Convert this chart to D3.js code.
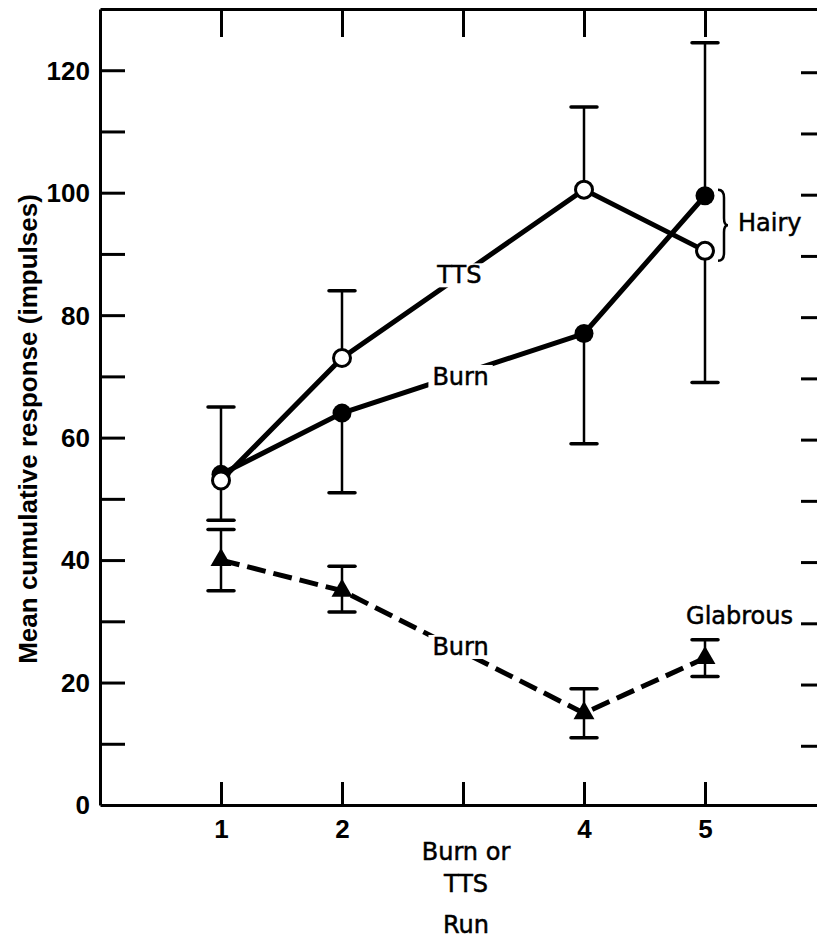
<!DOCTYPE html>
<html>
<head>
<meta charset="utf-8">
<script src="https://cdn.jsdelivr.net/npm/d3@7"></script>
<style>
  html, body { margin: 0; padding: 0; background: #fff; }
  svg { display: block; }
</style>
</head>
<body>
<svg id="chart" width="817" height="940"></svg>
<script>
// Runs at which responses were recorded
const runs = [1, 2, 4, 5];

// Hairy skin, TTS condition (open circles)
const hairyTTS = [53, 73, 100.5, 90.5];
const hairyTTSHigh = [65, 84, 114, null];
const hairyTTSLow = [null, null, null, 69];

// Hairy skin, burn condition (filled circles)
const hairyBurn = [54, 64, 77, 99.5];
const hairyBurnHigh = [null, null, null, 124.5];
const hairyBurnLow = [46.5, 51, 59, null];

// Glabrous skin, burn condition (filled triangles, dashed)
const glabrousBurn = [40, 35, 15, 24];
const glabrousBurnHigh = [45, 39, 19, 27];
const glabrousBurnLow = [35, 31.5, 11, 21];

// Axis ticks and labels
const xTicks = [1, 2, 3, 4, 5];
const xTickLabels = ["1", "2", "", "4", "5"];
const yMinorTicks = d3.range(10, 130, 10);
const yTickLabels = [0, 20, 40, 60, 80, 100, 120];

const svg = d3.select("#chart");
const x = d3.scaleLinear().domain([0, 6]).range([100, 826]);
const y = d3.scaleLinear().domain([0, 130]).range([805, 9]);

const SANS = "'Liberation Sans', Arial, Helvetica, sans-serif";
const LABEL = "'DejaVu Sans', Verdana, sans-serif";

// ---- frame and ticks ----
function styleAxis(g) {
  g.select(".domain").attr("stroke", "#000").attr("stroke-width", 3);
  g.selectAll(".tick line").attr("stroke", "#000").attr("stroke-width", 3);
}

svg.append("g")
  .attr("transform", `translate(${x(0)},0)`)
  .call(d3.axisLeft(y).tickValues(yMinorTicks).tickSize(-25).tickSizeOuter(0).tickFormat(""))
  .call(styleAxis);

svg.append("g")
  .attr("transform", `translate(${x(6)},2)`)
  .call(d3.axisRight(y).tickValues(yMinorTicks).tickSize(-25).tickSizeOuter(0).tickFormat(""))
  .call(styleAxis);

svg.append("g")
  .attr("transform", `translate(0,${y(130)})`)
  .call(d3.axisTop(x).tickValues(xTicks).tickSize(-28).tickSizeOuter(0).tickFormat(""))
  .call(styleAxis);

const xAxis = svg.append("g")
  .attr("transform", `translate(0,${y(0)})`)
  .call(d3.axisBottom(x).tickValues(xTicks).tickSize(-23).tickSizeOuter(0)
    .tickFormat((d, i) => xTickLabels[i]))
  .call(styleAxis);
xAxis.selectAll(".tick text")
  .attr("y", 33).attr("dy", 0)
  .attr("font-family", SANS).attr("font-size", 26).attr("font-weight", "bold")
  .attr("fill", "#000");

// y tick labels
svg.append("g").selectAll("text")
  .data(yTickLabels)
  .join("text")
  .attr("x", x(0) - 10)
  .attr("y", d => y(d))
  .attr("dy", "0.36em")
  .attr("text-anchor", "end")
  .attr("font-family", SANS).attr("font-size", 26).attr("font-weight", "bold")
  .text(d => d);

// axis titles
svg.append("text")
  .attr("transform", `translate(37,${429}) rotate(-90)`)
  .attr("text-anchor", "middle")
  .attr("font-family", SANS).attr("font-size", 26).attr("font-weight", "bold")
  .text("Mean cumulative response (impulses)");

const runLabel = svg.append("g")
  .attr("font-family", LABEL).attr("font-size", 24)
  .attr("stroke", "#000").attr("stroke-width", 0.5)
  .attr("text-anchor", "middle");
runLabel.append("text").attr("x", x(3) + 3).attr("y", 860).text("Burn or");
runLabel.append("text").attr("x", x(3) + 3).attr("y", 892).text("TTS");
runLabel.append("text").attr("x", x(3) + 3).attr("y", 933).text("Run");

// ---- error bars ----
function errorBars(values, ends) {
  const g = svg.append("g").attr("stroke", "#000");
  runs.forEach((r, i) => {
    const e = ends[i];
    if (e === null) return;
    g.append("line")
      .attr("x1", x(r)).attr("x2", x(r))
      .attr("y1", y(values[i])).attr("y2", y(e))
      .attr("stroke-width", 2.5);
    g.append("line")
      .attr("x1", x(r) - 13).attr("x2", x(r) + 13)
      .attr("y1", y(e)).attr("y2", y(e))
      .attr("stroke-width", 3.5)
      .attr("stroke-linecap", "round");
  });
}
errorBars(hairyTTS, hairyTTSHigh);
errorBars(hairyTTS, hairyTTSLow);
errorBars(hairyBurn, hairyBurnHigh);
errorBars(hairyBurn, hairyBurnLow);
errorBars(glabrousBurn, glabrousBurnHigh);
errorBars(glabrousBurn, glabrousBurnLow);

// ---- series lines ----
const line = d3.line().x((d, i) => x(runs[i])).y(d => y(d));

svg.append("path").datum(hairyTTS)
  .attr("d", line).attr("fill", "none")
  .attr("stroke", "#000").attr("stroke-width", 5);
svg.append("path").datum(hairyBurn)
  .attr("d", line).attr("fill", "none")
  .attr("stroke", "#000").attr("stroke-width", 5);
svg.append("path").datum(glabrousBurn)
  .attr("d", line).attr("fill", "none")
  .attr("stroke", "#000").attr("stroke-width", 5)
  .attr("stroke-dasharray", "19 8");

// ---- markers ----
svg.append("g").selectAll("circle")
  .data(hairyBurn).join("circle")
  .attr("cx", (d, i) => x(runs[i])).attr("cy", d => y(d))
  .attr("r", 9.5).attr("fill", "#000");

svg.append("g").selectAll("circle")
  .data(hairyTTS).join("circle")
  .attr("cx", (d, i) => x(runs[i])).attr("cy", d => y(d))
  .attr("r", 8.5).attr("fill", "#fff")
  .attr("stroke", "#000").attr("stroke-width", 3);

svg.append("g").selectAll("path")
  .data(glabrousBurn).join("path")
  .attr("transform", (d, i) => `translate(${x(runs[i])},${y(d)})`)
  .attr("d", d3.symbol(d3.symbolTriangle, 190))
  .attr("fill", "#000");

// ---- in-plot labels (white backing breaks the line beneath) ----
function lineLabel(text, cx, baseline) {
  const t = svg.append("text")
    .attr("x", cx).attr("y", baseline)
    .attr("text-anchor", "middle")
    .attr("font-family", LABEL).attr("font-size", 24)
    .attr("stroke", "#000").attr("stroke-width", 0.5)
    .text(text);
  const b = t.node().getBBox();
  svg.insert("rect", () => t.node())
    .attr("x", b.x - 4).attr("y", b.y + 2)
    .attr("width", b.width + 8).attr("height", b.height - 4)
    .attr("fill", "#fff");
}
lineLabel("TTS", x(2.97), y(85.2));
lineLabel("Burn", x(2.98), y(68.6));
lineLabel("Burn", x(2.98), y(24.5));

// Hairy brace grouping the two hairy end points
const bTop = y(hairyBurn[3]) - 6;
const bBot = y(hairyTTS[3]) + 10;
const bMid = (bTop + bBot) / 2;
const bx = x(5) + 13;
const brace = d3.path();
brace.moveTo(bx, bTop);
brace.quadraticCurveTo(bx + 6, bTop, bx + 6, bTop + 8);
brace.lineTo(bx + 6, bMid - 7);
brace.quadraticCurveTo(bx + 6, bMid, bx + 10, bMid);
brace.quadraticCurveTo(bx + 6, bMid, bx + 6, bMid + 7);
brace.lineTo(bx + 6, bBot - 8);
brace.quadraticCurveTo(bx + 6, bBot, bx, bBot);
svg.append("path").attr("d", brace.toString())
  .attr("fill", "none").attr("stroke", "#000").attr("stroke-width", 2.5);

svg.append("text")
  .attr("x", bx + 20).attr("y", bMid + 6)
  .attr("font-family", LABEL).attr("font-size", 24)
  .attr("stroke", "#000").attr("stroke-width", 0.5)
  .text("Hairy");

svg.append("text")
  .attr("x", x(6) - 33).attr("y", y(30) + 3)
  .attr("text-anchor", "end")
  .attr("font-family", LABEL).attr("font-size", 24)
  .attr("stroke", "#000").attr("stroke-width", 0.5)
  .text("Glabrous");
</script>
</body>
</html>
